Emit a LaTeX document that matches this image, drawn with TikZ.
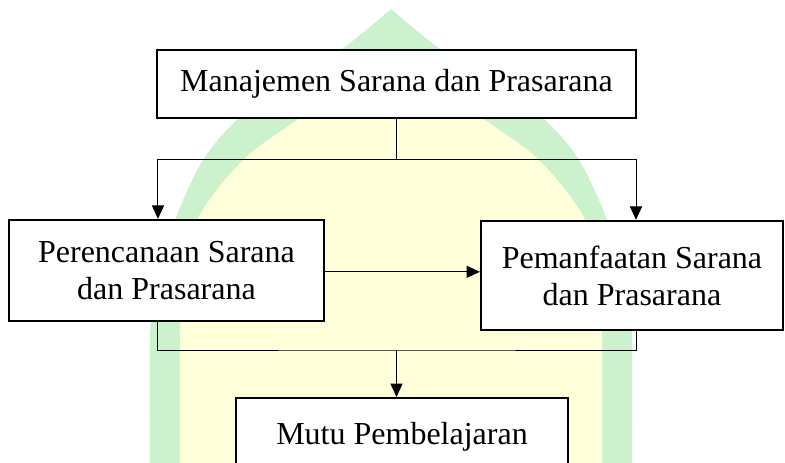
\documentclass[tikz,border=0pt]{standalone}
\usepackage{fontspec}
\setmainfont{Liberation Serif}
\usepackage{tikz}
\usetikzlibrary{arrows.meta,calc}
\usetikzlibrary{positioning}
\definecolor{wmgreen}{RGB}{204,242,205}
\definecolor{wmyellow}{RGB}{255,255,217}

\begin{document}
\begin{tikzpicture}[x=0.75pt,y=-0.75pt,>={Triangle[length=10pt,width=9pt]},every node/.style={draw,line width=1.5pt,fill=white,align=center,font=\fontsize{24}{27.6}\selectfont,inner sep=0pt}]
\clip (0,0) rectangle (785,463);
% watermark behind the chart
\fill[wmgreen] plot[smooth] coordinates {(150,470) (150,340) (155,290) (175,220) (203,160) (237,120) (290,80) (342,49) (391,9)}
  -- plot[smooth] coordinates {(391,9) (440,49) (492,80) (545,120) (579,160) (607,220) (627,290) (632,340) (632,470)} -- cycle;
\fill[wmyellow] plot[smooth] coordinates {(180,470) (180,340) (184,290) (197,220) (243,160) (297,120) (350,82) (391,52)}
  -- plot[smooth] coordinates {(391,52) (432,82) (485,120) (539,160) (585,220) (598,290) (602,340) (602,470)} -- cycle;
% boxes
\node[minimum width=359pt,minimum height=51pt] (mgmt) at (396.5,84) {Manajemen Sarana dan Prasarana};
\node[minimum width=236pt,minimum height=76pt] (plan) at (166.5,270.5) {Perencanaan Sarana\\ dan Prasarana};
\node[minimum width=226.5pt,minimum height=82pt] (use) at (632,275.5) {Pemanfaatan Sarana\\ dan Prasarana};
\node[minimum width=249pt,minimum height=58.5pt] (mutu) at (402,437) {Mutu Pembelajaran};
\coordinate (split) at (396.5,160);
\coordinate (join) at (396.5,350);
% connectors
\draw[line width=0.75pt] (mgmt.south) -- (split);
\draw[line width=0.75pt,->] (split) -| ([xshift=-6.4pt]plan.north);
\draw[line width=0.75pt,->] (split) -| ([xshift=3pt]use.north);
\draw[line width=0.75pt,->] ([yshift=-1pt]plan.east) -- ([yshift=-1pt]plan.east -| use.west);
\draw[line width=0.75pt] ([xshift=-6.4pt]plan.south) |- (join) -| ([xshift=3pt]use.south);
\draw[line width=0.75pt,->] (join) -- (join |- mutu.north);
\end{tikzpicture}
\end{document}
